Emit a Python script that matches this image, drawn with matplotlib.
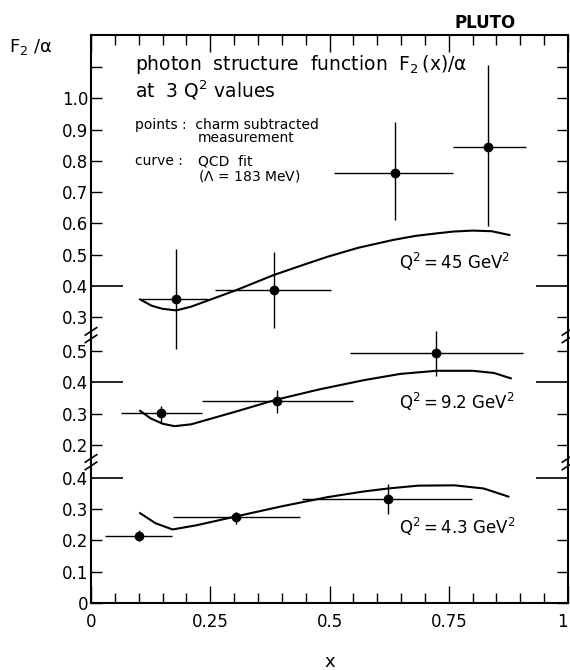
import matplotlib
matplotlib.use("Agg")
import matplotlib.pyplot as plt
import numpy as np

plt.rcParams['font.family'] = ['DejaVu Sans']
plt.rcParams['mathtext.fontset'] = 'dejavusans'

# ---- data (x, F2/alpha) for three Q^2 values ----
# Q^2 = 4.3 GeV^2
x_43 = [0.101, 0.305, 0.623]
y_43 = [0.215, 0.274, 0.332]
xlo_43 = [0.030, 0.171, 0.442]
xhi_43 = [0.169, 0.438, 0.799]
ylo_43 = [0.199, 0.252, 0.284]
yhi_43 = [0.233, 0.292, 0.379]
cx_43 = [0.103, 0.135, 0.171, 0.22, 0.305, 0.40, 0.495, 0.57, 0.623, 0.686, 0.762, 0.823, 0.875]
cy_43 = [0.287, 0.255, 0.235, 0.248, 0.277, 0.309, 0.338, 0.356, 0.366, 0.375, 0.376, 0.366, 0.340]

# Q^2 = 9.2 GeV^2
x_92 = [0.147, 0.389, 0.724]
y_92 = [0.301, 0.339, 0.493]
xlo_92 = [0.063, 0.232, 0.543]
xhi_92 = [0.232, 0.549, 0.906]
ylo_92 = [0.274, 0.303, 0.421]
yhi_92 = [0.324, 0.375, 0.564]
cx_92 = [0.103, 0.125, 0.15, 0.175, 0.21, 0.30, 0.389, 0.48, 0.572, 0.648, 0.724, 0.80, 0.845, 0.880]
cy_92 = [0.309, 0.285, 0.268, 0.260, 0.266, 0.305, 0.345, 0.378, 0.407, 0.427, 0.437, 0.437, 0.430, 0.413]

# Q^2 = 45 GeV^2
x_45 = [0.179, 0.383, 0.638, 0.833]
y_45 = [0.359, 0.387, 0.760, 0.845]
xlo_45 = [0.103, 0.259, 0.509, 0.758]
xhi_45 = [0.245, 0.504, 0.758, 0.911]
ylo_45 = [0.198, 0.267, 0.611, 0.592]
yhi_45 = [0.517, 0.507, 0.925, 1.106]
cx_45 = [0.103, 0.127, 0.15, 0.179, 0.21, 0.305, 0.383, 0.45, 0.495, 0.56, 0.633, 0.68, 0.724, 0.76, 0.80, 0.84, 0.877]
cy_45 = [0.357, 0.337, 0.327, 0.322, 0.334, 0.387, 0.435, 0.470, 0.493, 0.522, 0.547, 0.560, 0.568, 0.574, 0.577, 0.575, 0.563]

# section offsets for the broken axis (virtual y = value + offset)
off_43, off_92, off_45 = 0.0, 0.305, 0.613
brk1, brk2 = 0.45, 0.856
ytop = 1.815

ticks_43 = [0.0, 0.1, 0.2, 0.3, 0.4]
ticks_92 = [0.2, 0.3, 0.4, 0.5]
ticks_45 = [0.3, 0.4, 0.5, 0.6, 0.7, 0.8, 0.9, 1.0, 1.1]
labels_43 = ['0', '0.1', '0.2', '0.3', '0.4']
labels_92 = ['0.2', '0.3', '0.4', '0.5']
labels_45 = ['0.3', '0.4', '0.5', '0.6', '0.7', '0.8', '0.9', '1.0', '']

fig = plt.figure(figsize=(5.7, 6.7), dpi=100)
ax = fig.add_axes([91/570, 67/670, 477/570, 568/670])
ax.set_xlim(0, 1)
ax.set_ylim(0, ytop)

def draw(xs, ys, xlo, xhi, ylo, yhi, cx, cy, off):
    xs = np.array(xs); ys = np.array(ys) + off
    ax.errorbar(xs, ys,
                xerr=[xs - np.array(xlo), np.array(xhi) - xs],
                yerr=[ys - (np.array(ylo) + off), (np.array(yhi) + off) - ys],
                fmt='o', color='black', ms=6, elinewidth=1.0, capsize=0, clip_on=False)
    ax.plot(cx, np.array(cy) + off, color='black', lw=1.5)

draw(x_43, y_43, xlo_43, xhi_43, ylo_43, yhi_43, cx_43, cy_43, off_43)
draw(x_92, y_92, xlo_92, xhi_92, ylo_92, yhi_92, cx_92, cy_92, off_92)
draw(x_45, y_45, xlo_45, xhi_45, ylo_45, yhi_45, cx_45, cy_45, off_45)

# y ticks: long ticks at 0.4 of each section, short elsewhere
maj_pos, maj_lab, min_pos, min_lab = [], [], [], []
for ticks, labs, off in [(ticks_43, labels_43, off_43), (ticks_92, labels_92, off_92), (ticks_45, labels_45, off_45)]:
    for t, l in zip(ticks, labs):
        if abs(t - 0.4) < 1e-9:
            maj_pos.append(t + off); maj_lab.append(l)
        else:
            min_pos.append(t + off); min_lab.append(l)
ax.set_yticks(maj_pos, maj_lab)
ax.set_yticks(min_pos, min_lab, minor=True)
ax.tick_params(axis='y', which='major', length=23, width=1.2, direction='in', left=True, right=True, pad=2, labelsize=12)
ax.tick_params(axis='y', which='minor', length=8, width=1.0, direction='in', left=True, right=True, pad=2, labelsize=12)

ax.set_xticks([0, 0.25, 0.5, 0.75, 1], ['0', '0.25', '0.5', '0.75', '1'])
ax.set_xticks(np.arange(0.05, 1.0, 0.05), minor=True)
ax.tick_params(axis='x', which='major', length=12, width=1.0, direction='in', top=True, bottom=True, pad=7, labelsize=12)
ax.tick_params(axis='x', which='minor', length=7, width=1.0, direction='in', top=True, bottom=True)
ax.xaxis.set_minor_formatter(matplotlib.ticker.NullFormatter())
ax.get_xticklabels()[-1].set_horizontalalignment('right')

for s in ax.spines.values():
    s.set_linewidth(1.5)

# break marks
tr = ax.get_yaxis_transform()
for yb in (brk1, brk2):
    for xa in (0.0, 1.0):
        for d in (-0.012, 0.012):
            ax.plot([xa - 0.012, xa + 0.012], [yb + d - 0.012, yb + d + 0.012],
                    transform=tr, color='black', lw=1.2, clip_on=False)

ax.set_xlabel('x', fontsize=13, labelpad=16)
fig.text(9/570, 1 - 47/670, r'$\mathregular{F_2\ /\alpha}$', fontsize=13, va='center', ha='left')
fig.text(455/570, 1 - 23/670, 'PLUTO', fontsize=12, fontweight='bold', va='center', ha='left')

ax.text(0.093, 1.722, r'photon  structure  function  $\mathregular{F_2\,(x)/\alpha}$', fontsize=13.5, va='center', ha='left')
ax.text(0.093, 1.639, r'at  3 $\mathregular{Q^2}$ values', fontsize=13.5, va='center', ha='left')
ax.text(0.093, 1.527, 'points :  charm subtracted', fontsize=10, va='center', ha='left')
ax.text(0.224, 1.487, 'measurement', fontsize=10, va='center', ha='left')
ax.text(0.093, 1.412, 'curve :', fontsize=10, va='center', ha='left')
ax.text(0.224, 1.412, 'QCD  fit', fontsize=10, va='center', ha='left')
ax.text(0.224, 1.364, r'($\Lambda$ = 183 MeV)', fontsize=10, va='center', ha='left')

ax.text(0.645, 0.477 + off_45, r'$\mathregular{Q^2 = 45\ GeV^2}$', fontsize=12, va='center', ha='left')
ax.text(0.645, 0.338 + off_92, r'$\mathregular{Q^2 = 9.2\ GeV^2}$', fontsize=12, va='center', ha='left')
ax.text(0.645, 0.242 + off_43, r'$\mathregular{Q^2 = 4.3\ GeV^2}$', fontsize=12, va='center', ha='left')

fig.savefig('out.png', dpi=100)
